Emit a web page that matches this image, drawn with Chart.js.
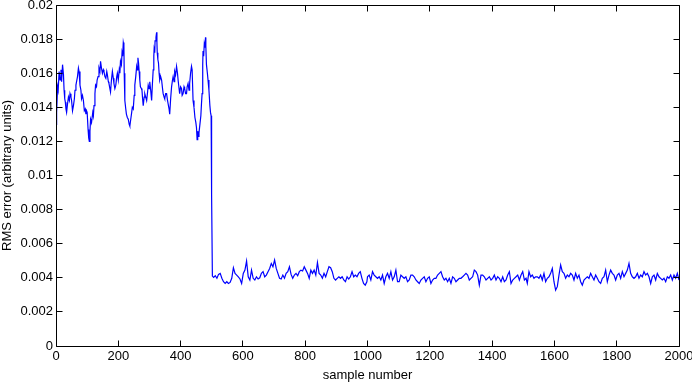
<!DOCTYPE html>
<html>
<head>
<meta charset="utf-8">
<script src="https://cdn.jsdelivr.net/npm/chart.js@4/dist/chart.umd.min.js"></script>
<style>
  html, body { margin: 0; padding: 0; background: #fff; }
  canvas { display: block; }
</style>
</head>
<body>
<canvas id="rmsChart" width="692" height="383"></canvas>
<script>
// RMS error before the drop (samples 0..502)
const headSamples = [0, 2, 5, 7, 10, 13, 16, 18, 21, 24, 26, 28, 30, 32, 34, 37, 40, 43, 45, 48,
  50, 53, 56, 59, 61, 64, 66, 69, 72, 74, 77, 80, 82, 85, 88, 91, 94, 96, 98, 100,
  103, 105, 107, 109, 111, 114, 118, 120, 122, 125, 127, 130, 132, 135, 138, 141, 143, 146, 149, 152,
  154, 157, 160, 163, 165, 168, 170, 173, 175, 178, 181, 184, 186, 189, 192, 195, 197, 200, 203, 205,
  207, 210, 212, 214, 216, 218, 219, 221, 224, 226, 229, 232, 235, 237, 240, 243, 245, 248, 251, 253,
  256, 259, 261, 263, 265, 267, 269, 271, 274, 276, 278, 280, 283, 285, 288, 291, 294, 296, 299, 301,
  304, 307, 309, 312, 314, 315, 317, 318, 321, 323, 324, 325, 327, 329, 331, 333, 336, 339, 342, 344,
  347, 349, 352, 355, 358, 360, 363, 365, 368, 371, 374, 376, 379, 381, 384, 387, 390, 392, 395, 397,
  400, 403, 405, 408, 411, 413, 416, 419, 421, 424, 427, 429, 432, 435, 437, 440, 443, 446, 449, 451,
  453, 455, 457, 459, 462, 465, 467, 469, 471, 472, 474, 476, 478, 480, 481, 483, 486, 488, 491, 494,
  496, 498, 499, 500, 502];
const headValues = [0.0130, 0.0137, 0.0152, 0.0150, 0.0161, 0.0156, 0.0162, 0.0155, 0.0165, 0.0159, 0.0150, 0.0145, 0.0143, 0.0139, 0.0137, 0.0142, 0.0146, 0.0144, 0.0148, 0.0146,
  0.0144, 0.0138, 0.0141, 0.0145, 0.0150, 0.0153, 0.0155, 0.0158, 0.0163, 0.0161, 0.0153, 0.0150, 0.0145, 0.0147, 0.0144, 0.0138, 0.0139, 0.0136, 0.0138, 0.0137,
  0.0127, 0.0122, 0.0120, 0.0126, 0.0133, 0.0131, 0.0137, 0.0135, 0.0141, 0.0148, 0.0153, 0.0152, 0.0156, 0.0158, 0.0163, 0.0161, 0.0167, 0.0163, 0.0160, 0.0162,
  0.0161, 0.0158, 0.0157, 0.0161, 0.0159, 0.0155, 0.0154, 0.0151, 0.0149, 0.0156, 0.0161, 0.0157, 0.0154, 0.0151, 0.0153, 0.0158, 0.0160, 0.0156, 0.0162, 0.0160,
  0.0167, 0.0165, 0.0172, 0.0170, 0.0178, 0.0176, 0.0160, 0.0144, 0.0139, 0.0136, 0.0134, 0.0133, 0.0130, 0.0129, 0.0133, 0.0137, 0.0140, 0.0139, 0.0147, 0.0153,
  0.0158, 0.0164, 0.0162, 0.0169, 0.0166, 0.0161, 0.0156, 0.0152, 0.0151, 0.0150, 0.0145, 0.0141, 0.0146, 0.0148, 0.0146, 0.0144, 0.0149, 0.0153, 0.0151, 0.0155,
  0.0150, 0.0144, 0.0152, 0.0162, 0.0170, 0.0174, 0.0172, 0.0179, 0.0181, 0.0184, 0.0178, 0.0172, 0.0168, 0.0166, 0.0160, 0.0156, 0.0158, 0.0156, 0.0151, 0.0148,
  0.0146, 0.0145, 0.0148, 0.0148, 0.0144, 0.0142, 0.0139, 0.0136, 0.0145, 0.0152, 0.0156, 0.0158, 0.0155, 0.0161, 0.0159, 0.0164, 0.0160, 0.0156, 0.0151, 0.0148,
  0.0152, 0.0151, 0.0147, 0.0148, 0.0152, 0.0151, 0.0148, 0.0148, 0.0152, 0.0154, 0.0150, 0.0154, 0.0160, 0.0164, 0.0162, 0.0144, 0.0140, 0.0134, 0.0131, 0.0128,
  0.0121, 0.0126, 0.0123, 0.0125, 0.0130, 0.0135, 0.0142, 0.0148, 0.0165, 0.0173, 0.0170, 0.0177, 0.0175, 0.0181, 0.0176, 0.0165, 0.0160, 0.0156, 0.0150, 0.0141,
  0.0137, 0.0135, 0.0134, 0.0089, 0.0041];

// after the drop: three stretches, evenly spaced samples between the given ends
const tailA = { from: 506, to: 998, values: [0.00402, 0.00412, 0.00397, 0.00420, 0.00426, 0.00397, 0.00377, 0.00367, 0.00377, 0.00367,
  0.00373, 0.00397, 0.00459, 0.00426, 0.00416, 0.00406, 0.00393, 0.00367, 0.00426, 0.00445,
  0.00498, 0.00406, 0.00387, 0.00445, 0.00397, 0.00387, 0.00406, 0.00393, 0.00400, 0.00426,
  0.00436, 0.00406, 0.00416, 0.00436, 0.00455, 0.00484, 0.00465, 0.00504, 0.00455, 0.00426,
  0.00397, 0.00393, 0.00416, 0.00397, 0.00426, 0.00436, 0.00465, 0.00420, 0.00397, 0.00416,
  0.00426, 0.00412, 0.00436, 0.00445, 0.00440, 0.00465, 0.00445, 0.00426, 0.00397, 0.00445,
  0.00426, 0.00445, 0.00416, 0.00490, 0.00426, 0.00416, 0.00397, 0.00426, 0.00406, 0.00436,
  0.00465, 0.00459, 0.00436, 0.00397, 0.00387, 0.00397, 0.00406, 0.00397, 0.00406, 0.00387,
  0.00377, 0.00406, 0.00393, 0.00406, 0.00436, 0.00406, 0.00416, 0.00406, 0.00426, 0.00436,
  0.00397, 0.00367, 0.00357, 0.00377] };
const tailB = { from: 1000, to: 1509, values: [0.00406, 0.00416, 0.00387, 0.00436, 0.00416, 0.00406, 0.00397, 0.00406, 0.00387, 0.00416,
  0.00367, 0.00406, 0.00426, 0.00397, 0.00436, 0.00387, 0.00406, 0.00445, 0.00377, 0.00377,
  0.00416, 0.00406, 0.00397, 0.00406, 0.00377, 0.00387, 0.00416, 0.00416, 0.00406, 0.00387,
  0.00377, 0.00367, 0.00387, 0.00397, 0.00406, 0.00377, 0.00397, 0.00406, 0.00367, 0.00387,
  0.00397, 0.00397, 0.00416, 0.00426, 0.00436, 0.00406, 0.00387, 0.00397, 0.00377, 0.00397,
  0.00367, 0.00406, 0.00397, 0.00377, 0.00387, 0.00397, 0.00397, 0.00406, 0.00416, 0.00426,
  0.00416, 0.00387, 0.00397, 0.00406, 0.00445, 0.00436, 0.00416, 0.00357, 0.00416, 0.00416,
  0.00406, 0.00387, 0.00397, 0.00406, 0.00387, 0.00397, 0.00416, 0.00387, 0.00406, 0.00397,
  0.00377, 0.00406, 0.00377, 0.00387, 0.00416, 0.00436, 0.00367, 0.00387, 0.00397, 0.00406,
  0.00416, 0.00387, 0.00416, 0.00436, 0.00387, 0.00397] };
const tailC = { from: 1513, to: 2000, values: [0.00367, 0.00436, 0.00406, 0.00416, 0.00397, 0.00406, 0.00406, 0.00397, 0.00416, 0.00387,
  0.00426, 0.00377, 0.00397, 0.00406, 0.00426, 0.00455, 0.00377, 0.00328, 0.00348, 0.00416,
  0.00475, 0.00436, 0.00426, 0.00397, 0.00416, 0.00406, 0.00426, 0.00416, 0.00387, 0.00426,
  0.00397, 0.00416, 0.00377, 0.00357, 0.00387, 0.00397, 0.00406, 0.00397, 0.00426, 0.00406,
  0.00387, 0.00416, 0.00397, 0.00377, 0.00367, 0.00397, 0.00406, 0.00445, 0.00377, 0.00416,
  0.00445, 0.00426, 0.00416, 0.00387, 0.00416, 0.00426, 0.00397, 0.00436, 0.00406, 0.00426,
  0.00445, 0.00484, 0.00426, 0.00406, 0.00397, 0.00406, 0.00426, 0.00397, 0.00416, 0.00406,
  0.00436, 0.00416, 0.00426, 0.00406, 0.00367, 0.00406, 0.00416, 0.00387, 0.00426, 0.00406,
  0.00397, 0.00387, 0.00397, 0.00377, 0.00406, 0.00397, 0.00416, 0.00387, 0.00416, 0.00397,
  0.00426, 0.00387] };

const xTickStep = 200;
const yTickStep = 0.002;
const xLabel = 'sample number';
const yLabel = 'RMS error (arbitrary units)';

function buildPoints() {
    const pts = headSamples.map((s, i) => ({ x: s, y: headValues[i] }));
    [tailA, tailB, tailC].forEach(seg => {
        const n = seg.values.length;
        seg.values.forEach((v, i) => {
            pts.push({ x: seg.from + (seg.to - seg.from) * i / (n - 1), y: v });
        });
    });
    return pts;
}

const font = { family: '"Liberation Sans", Arial, Helvetica, sans-serif', size: 13 };
// no library tick marks, the plugin below draws them inward
const noGrid = { display: false, drawTicks: false, tickLength: 0 };

// MATLAB-like box with inward ticks on all four sides
const boxTicks = {
    id: 'boxTicks',
    afterDraw(chart) {
        const { ctx, chartArea: a, scales: { x, y } } = chart;
        const L = Math.floor(a.left) + 0.5, R = Math.floor(a.right) + 0.5;
        const T = Math.floor(a.top) + 0.5, B = Math.floor(a.bottom) + 0.5;
        const len = 6;
        ctx.save();
        ctx.strokeStyle = '#000';
        ctx.lineWidth = 1;
        ctx.beginPath();
        ctx.rect(L, T, R - L, B - T);
        x.ticks.forEach(t => {
            const px = Math.floor(x.getPixelForValue(t.value)) + 0.5;
            ctx.moveTo(px, B); ctx.lineTo(px, B - len);
            ctx.moveTo(px, T); ctx.lineTo(px, T + len);
        });
        y.ticks.forEach(t => {
            const py = Math.floor(y.getPixelForValue(t.value)) + 0.5;
            ctx.moveTo(L, py); ctx.lineTo(L + len, py);
            ctx.moveTo(R, py); ctx.lineTo(R - len, py);
        });
        ctx.stroke();
        ctx.restore();
    }
};

new Chart(document.getElementById('rmsChart').getContext('2d'), {
    type: 'line',
    data: {
        datasets: [{
            data: buildPoints(),
            borderColor: '#0000ff',
            borderWidth: 1.2,
            pointRadius: 0,
            tension: 0,
            fill: false
        }]
    },
    options: {
        responsive: false,
        animation: false,
        layout: { padding: { top: 5, right: 13, left: 0, bottom: 0 } },
        plugins: { legend: { display: false }, tooltip: { enabled: false } },
        scales: {
            x: {
                type: 'linear',
                min: 0,
                max: 2000,
                afterFit: s => { s.height = 37; s.paddingLeft = 0; s.paddingRight = 0; },
                grid: noGrid,
                border: { display: false },
                ticks: {
                    stepSize: xTickStep,
                    autoSkip: false,
                    maxRotation: 0,
                    padding: 3,
                    color: '#000',
                    font: font,
                    callback: v => String(v)
                },
                title: { display: true, text: xLabel, color: '#000', font: font, padding: { top: 0, bottom: 0 } }
            },
            y: {
                type: 'linear',
                min: 0,
                max: 0.02,
                afterFit: s => { s.width = 56; s.paddingTop = 0; s.paddingBottom = 0; },
                grid: noGrid,
                border: { display: false },
                ticks: {
                    stepSize: yTickStep,
                    autoSkip: false,
                    padding: 3,
                    color: '#000',
                    font: font,
                    callback: v => String(parseFloat(v.toFixed(4)))
                },
                title: { display: true, text: yLabel, color: '#000', font: font, padding: { top: 0, bottom: 0 } }
            }
        }
    },
    plugins: [boxTicks]
});
</script>
</body>
</html>
